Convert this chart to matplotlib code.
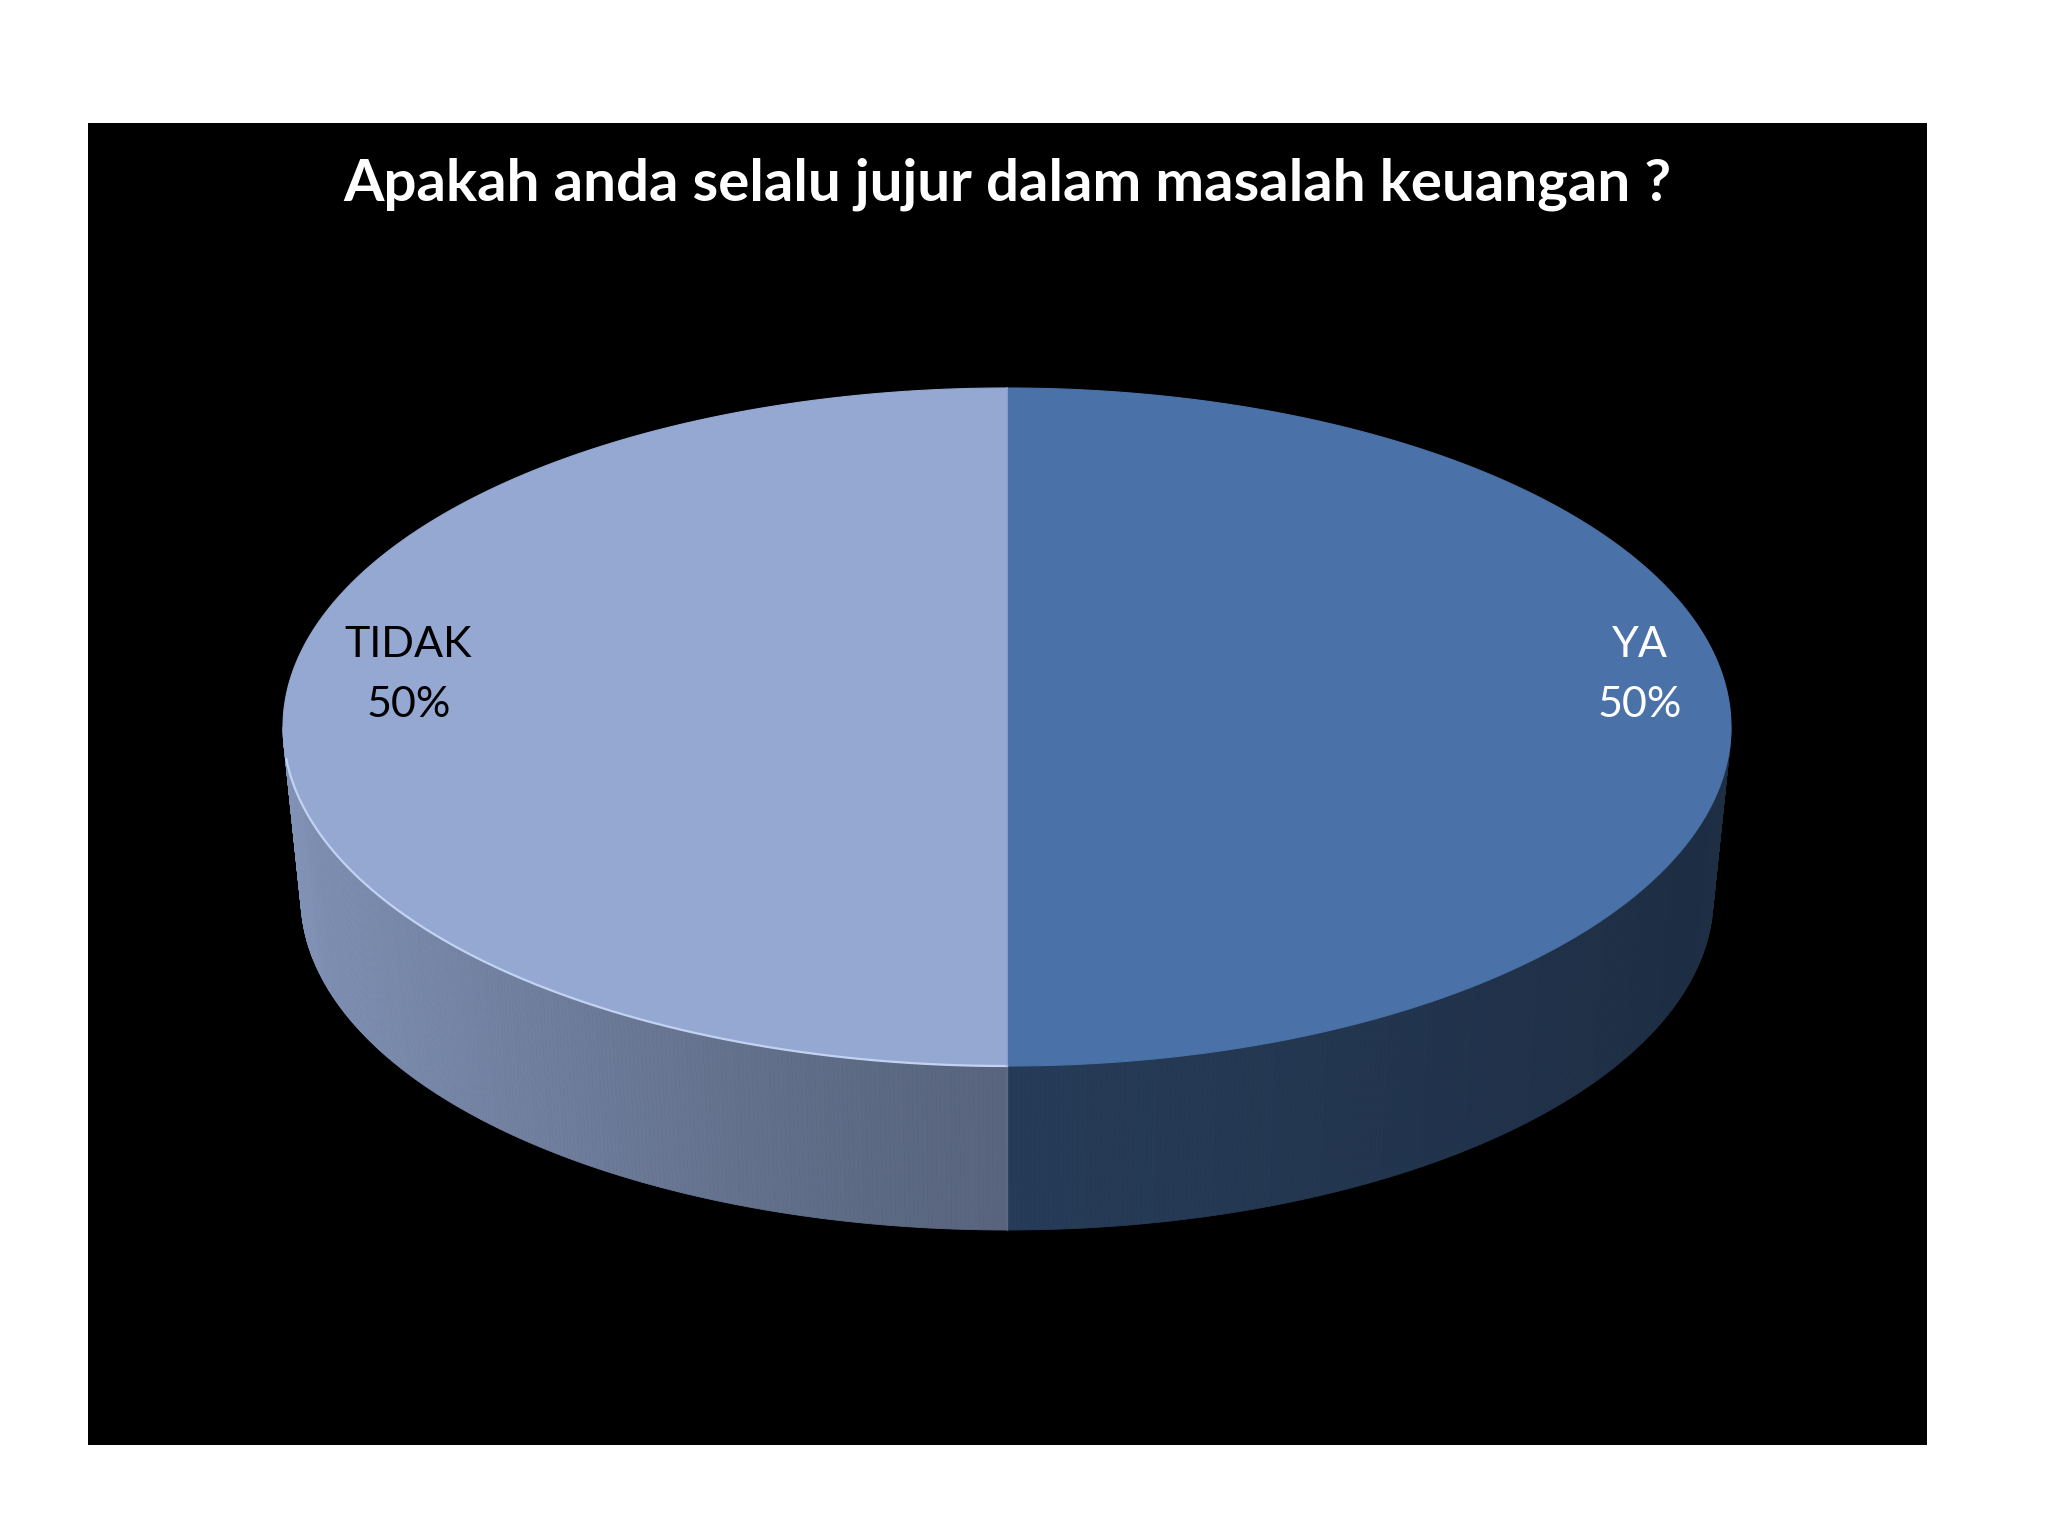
import matplotlib
matplotlib.use("Agg")
import matplotlib.pyplot as plt
from matplotlib.patches import Polygon, Rectangle
import numpy as np

# data
labels = ["YA", "TIDAK"]
values = [50, 50]
title = "Apakah anda selalu jujur dalam masalah keuangan ?"

top_colors = ["#4a72a8", "#94a8d1"]
label_colors = ["white", "black"]
label_radius = [0.874, 0.827]
# side shading (factor at centre seam, factor at outer edge)
side_shade = [(0.52, 0.40), (0.60, 0.87)]

W, H = 2048, 1536
fig = plt.figure(figsize=(W / 100, H / 100), dpi=100)
fig.patch.set_facecolor("white")
ax = fig.add_axes([0, 0, 1, 1])
ax.set_xlim(0, W)
ax.set_ylim(H, 0)
ax.axis("off")

ax.add_patch(Rectangle((88, 123), 1839, 1322, facecolor="black", edgecolor="none"))

# pie geometry (pixels)
cx, cy, a, b = 1007, 727, 724, 339
cx2, cy2, a2, b2 = 1007, 898, 706, 332


def top_pt(t):
    return cx + a * np.cos(t), cy - b * np.sin(t)


def bot_pt(t):
    return cx2 + a2 * np.cos(t), cy2 - b2 * np.sin(t)


def to_rgb(c):
    return np.array(matplotlib.colors.to_rgb(c))


total = sum(values)
start = np.pi / 2
slices = []
for i, v in enumerate(values):
    sweep = 2 * np.pi * v / total
    t0, t1 = start, start - sweep  # clockwise
    slices.append((t0, t1))
    start = t1

# sides (front half only: angles where sin < 0)
for i, (t0, t1) in enumerate(slices):
    lo, hi = min(t0, t1), max(t0, t1)
    base = to_rgb(top_colors[i])
    fc, fe = side_shade[i]
    for k in range(-1, 2):
        s_lo = max(lo, np.pi + 2 * np.pi * k)
        s_hi = min(hi, 2 * np.pi + 2 * np.pi * k)
        if s_hi <= s_lo:
            continue
        ts = np.linspace(s_lo, s_hi, 240)
        for j in range(len(ts) - 1):
            ta, tb = ts[j], ts[j + 1]
            xa, ya = top_pt(ta)
            xb, yb = top_pt(tb)
            xb2, yb2 = bot_pt(tb)
            xa2, ya2 = bot_pt(ta)
            u = abs(np.cos((ta + tb) / 2))
            f = fc + (fe - fc) * u ** 1.3
            col = np.clip(base * f, 0, 1)
            ax.add_patch(Polygon([(xa, ya), (xb, yb), (xb2, yb2), (xa2, ya2)],
                                 closed=True, facecolor=col, edgecolor=col,
                                 linewidth=0.6))

# seam edge on front
x0, y0 = top_pt(-np.pi / 2)
x1, y1 = bot_pt(-np.pi / 2)
ax.plot([x0, x1], [y0, y1], color="#7a88a8", lw=1.0, alpha=0.5)

# top faces
for i, (t0, t1) in enumerate(slices):
    ts = np.linspace(t0, t1, 400)
    pts = [(cx, cy)] + [top_pt(t) for t in ts]
    ax.add_patch(Polygon(pts, closed=True, facecolor=top_colors[i],
                         edgecolor=top_colors[i], linewidth=0.8))

# light highlight along front rim of the light slice
ts = np.linspace(np.pi * 1.03, np.pi * 1.5, 200)
rim = np.array([top_pt(t) for t in ts])
ax.plot(rim[:, 0], rim[:, 1], color="#c2d2f2", lw=1.6)

# divider between slices
xs, ys = top_pt(np.pi / 2)
xe, ye = top_pt(-np.pi / 2)
ax.plot([xs, xe], [ys, ye], color="#8fa6d6", lw=1.2, alpha=0.8)

# labels
for i, (t0, t1) in enumerate(slices):
    mid = (t0 + t1) / 2
    lx = cx + label_radius[i] * a * np.cos(mid)
    ly = cy - 52
    pct = 100 * values[i] / total
    ax.text(lx, ly, f"{labels[i]}\n{pct:.0f}%", ha="center", va="center",
            color=label_colors[i], fontsize=31, family="Lato",
            linespacing=1.7)

# title, width matched to target
t = ax.text(1007, 184, title, ha="center", va="center", color="white",
            fontsize=40, fontweight="bold", family="Lato")
fig.canvas.draw()
wpx = t.get_window_extent().width
t.set_fontsize(40 * 1330 / wpx)

fig.savefig("out.png", dpi=100, facecolor="white")
